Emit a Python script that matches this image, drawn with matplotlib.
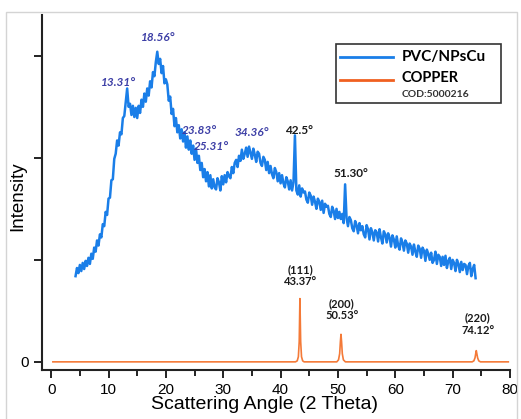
import numpy as np
import matplotlib
matplotlib.use('Agg')
import matplotlib.pyplot as plt
from matplotlib.patches import Rectangle
from matplotlib.lines import Line2D

plt.rcParams['font.family'] = ['Liberation Sans', 'DejaVu Sans']

# PVC/NPsCu pattern, sampled every 0.25 deg from 4.25 to 74.0
pvc_start = 4.25
pvc_step = 0.25
pvc_y = [
    0.84, 0.92, 0.87, 0.95, 0.89, 0.97, 0.91, 0.99,
    0.94, 1.02, 0.96, 1.06, 1.01, 1.12, 1.08, 1.19,
    1.14, 1.25, 1.22, 1.35, 1.33, 1.47, 1.44, 1.60,
    1.61, 1.78, 1.79, 1.99, 2.04, 2.17, 2.12, 2.25,
    2.23, 2.39, 2.41, 2.55, 2.68, 2.50, 2.53, 2.42,
    2.51, 2.40, 2.49, 2.39, 2.51, 2.44, 2.57, 2.50,
    2.63, 2.55, 2.68, 2.61, 2.75, 2.69, 2.84, 2.80,
    2.94, 3.04, 2.92, 2.97, 2.83, 2.90, 2.73, 2.77,
    2.72, 2.56, 2.60, 2.43, 2.48, 2.31, 2.39, 2.25,
    2.32, 2.19, 2.28, 2.16, 2.25, 2.10, 2.21, 2.08,
    2.17, 2.04, 2.12, 1.98, 2.09, 1.95, 2.02, 1.88,
    1.95, 1.81, 1.89, 1.77, 1.86, 1.72, 1.83, 1.70,
    1.79, 1.71, 1.69, 1.80, 1.76, 1.68, 1.82, 1.74,
    1.83, 1.76, 1.86, 1.82, 1.80, 1.91, 1.85, 1.95,
    1.98, 1.91, 2.02, 1.97, 2.08, 1.99, 2.04, 2.10,
    2.01, 2.11, 2.05, 1.99, 2.09, 2.03, 1.96, 2.06,
    2.04, 1.95, 1.92, 2.01, 1.98, 1.88, 1.96, 1.85,
    1.92, 1.84, 1.80, 1.90, 1.86, 1.77, 1.85, 1.75,
    1.83, 1.75, 1.71, 1.81, 1.77, 1.69, 1.78, 1.68,
    1.76, 2.22, 1.68, 1.64, 1.73, 1.62, 1.70, 1.66,
    1.67, 1.59, 1.56, 1.66, 1.63, 1.54, 1.62, 1.57,
    1.50, 1.60, 1.57, 1.49, 1.58, 1.46, 1.55, 1.52,
    1.53, 1.45, 1.42, 1.52, 1.48, 1.40, 1.50, 1.41,
    1.47, 1.40, 1.45, 1.36, 1.74, 1.41, 1.33, 1.42,
    1.39, 1.31, 1.28, 1.38, 1.34, 1.26, 1.36, 1.29,
    1.33, 1.25, 1.22, 1.34, 1.30, 1.20, 1.31, 1.27,
    1.19, 1.29, 1.27, 1.18, 1.30, 1.22, 1.16, 1.28,
    1.25, 1.17, 1.26, 1.22, 1.13, 1.24, 1.20, 1.12,
    1.23, 1.14, 1.10, 1.21, 1.17, 1.09, 1.19, 1.16,
    1.07, 1.16, 1.13, 1.05, 1.15, 1.08, 1.03, 1.14,
    1.11, 1.02, 1.12, 1.09, 0.99, 1.10, 1.06, 1.00,
    1.07, 0.97, 1.00, 1.08, 0.96, 1.05, 1.03, 0.94,
    1.03, 0.95, 1.04, 0.92, 0.99, 1.02, 0.91, 1.00,
    0.97, 0.89, 1.00, 0.96, 0.88, 0.98, 0.90, 0.96,
    0.95, 0.86, 0.94, 0.97, 0.84, 0.91, 0.95, 0.82,
]
pvc_x = pvc_start + pvc_step * np.arange(len(pvc_y))

# COPPER reference pattern (COD:5000216)
cu_x = [0.3, 42.6, 42.9, 43.1, 43.25, 43.37, 43.5, 43.65, 43.85, 44.1,
        49.8, 50.1, 50.3, 50.43, 50.53, 50.63, 50.76, 50.95, 51.3,
        73.4, 73.7, 73.9, 74.02, 74.12, 74.22, 74.35, 74.55, 74.85, 79.7]
cu_y = [0, 0, 0.01, 0.05, 0.2, 0.62, 0.2, 0.05, 0.01, 0,
        0, 0.02, 0.08, 0.2, 0.27, 0.2, 0.08, 0.02, 0,
        0, 0.01, 0.04, 0.08, 0.11, 0.08, 0.04, 0.01, 0, 0]

# peak labels
pvc_labels = ['13.31°', '18.56°', '23.83°', '25.31°', '34.36°']
pvc_label_x = [11.7, 18.7, 25.9, 28.0, 35.0]
pvc_label_y = [2.74, 3.18, 2.27, 2.11, 2.25]
extra_labels = ['42.5°', '51.30°']
extra_label_x = [43.2, 52.3]
extra_label_y = [2.27, 1.85]
cu_hkl = ['(111)', '(200)', '(220)']
cu_angles = ['43.37°', '50.53°', '74.12°']
cu_label_x = [43.4, 50.7, 74.4]
cu_label_y = [0.85, 0.51, 0.37]

blue = '#1a7ee8'
orange = '#f47a38'

fig = plt.figure(figsize=(5.21, 4.19), dpi=100)
ax = fig.add_axes([0.0806, 0.1169, 0.8983, 0.8473])

ax.plot(cu_x, cu_y, color=orange, lw=1.2)
ax.plot(pvc_x, pvc_y, color=blue, lw=1.8)

ax.set_xlim(-1.6, 80)
ax.set_ylim(-0.08, 3.40)

for s in ['top', 'right']:
    ax.spines[s].set_visible(False)
for s in ['left', 'bottom']:
    ax.spines[s].set_linewidth(1.5)
    ax.spines[s].set_color('#222222')

ax.set_xticks(range(0, 81, 10))
ax.set_xticks(range(5, 80, 10), minor=True)
ax.set_yticks([0, 1, 2, 3])
ax.set_yticklabels(['0', '', '', ''])
ax.tick_params(axis='both', which='major', direction='out', length=6, width=1.4,
               color='#222222', labelsize=11)
ax.tick_params(axis='x', which='minor', direction='out', length=4, width=1.4, color='#222222')

ax.set_xlabel('Scattering Angle (2 Theta)', fontsize=14)
ax.set_ylabel('Intensity', fontsize=13.5)
ax.xaxis.set_label_coords(0.476, -0.073)
ax.yaxis.set_label_coords(-0.034, 0.49)

lab_font = ['Lato', 'DejaVu Sans']
for t, x, y in zip(pvc_labels, pvc_label_x, pvc_label_y):
    ax.text(x, y, t, color='#3d3fa6', fontsize=8.5, fontweight='bold', style='italic',
            ha='center', va='center', family=lab_font)
for t, x, y in zip(extra_labels, extra_label_x, extra_label_y):
    ax.text(x, y, t, color='#1a1a1a', fontsize=8.5, fontweight='bold',
            ha='center', va='center', family=lab_font)
for h, a, x, y in zip(cu_hkl, cu_angles, cu_label_x, cu_label_y):
    ax.text(x, y, h + '\n' + a, color='#1a1a1a', fontsize=8, fontweight='bold',
            ha='center', va='center', family=lab_font, linespacing=1.1)

# legend box
tr = ax.transAxes
ax.add_patch(Rectangle((0.628, 0.752), 0.353, 0.166, transform=tr, fill=False,
                       edgecolor='#333333', lw=1.2))
ax.add_line(Line2D([0.637, 0.750], [0.882, 0.882], transform=tr, color=blue, lw=2))
ax.add_line(Line2D([0.637, 0.750], [0.817, 0.817], transform=tr, color='#f06020', lw=2))
ax.text(0.768, 0.882, 'PVC/NPsCu', transform=tr, fontsize=11, fontweight='bold',
        va='center', ha='left', family=lab_font)
ax.text(0.768, 0.822, 'COPPER', transform=tr, fontsize=10.5, fontweight='bold',
        va='center', ha='left', family=lab_font)
ax.text(0.768, 0.776, 'COD:5000216', transform=tr, fontsize=7.5, fontweight='bold',
        va='center', ha='left', family=lab_font, color='#333333')

# light frame around the picture
fig.add_artist(Rectangle((6 / 521, -0.05), 511 / 521, 1.0214, transform=fig.transFigure,
                         fill=False, edgecolor='#d4d4d4', lw=1))

fig.savefig('out.png', dpi=100)
